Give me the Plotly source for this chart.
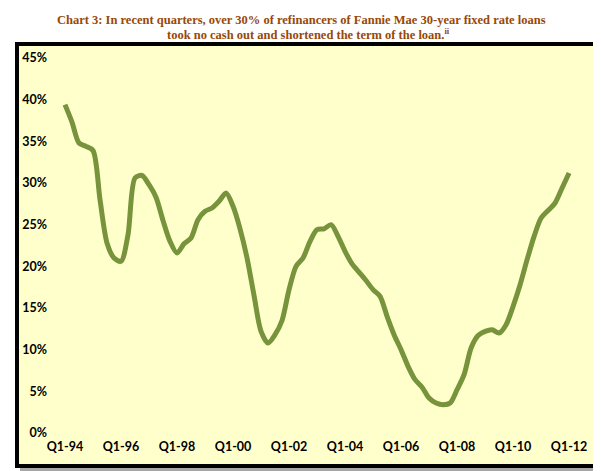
import plotly.graph_objects as go

years = list(range(1994, 2013))
quarters = [f"Q{q}-{str(y)[2:]}" for y in years for q in range(1, 5)][:73]

share_pct = [
    39.4, 37.3, 34.8, 34.4, 33.9, 28.0, 22.8, 21.0, 20.6, 23.8,
    30.6, 30.9, 29.8, 28.3, 25.5, 23.0, 21.6, 22.7, 23.4, 25.6,
    26.6, 27.0, 27.8, 28.8, 27.2, 24.5, 21.0, 16.5, 12.2, 10.8,
    11.8, 13.5, 17.2, 20.0, 21.0, 23.0, 24.4, 24.5, 25.0, 23.6,
    21.8, 20.3, 19.3, 18.3, 17.2, 16.4, 14.0, 11.8, 10.0, 8.0,
    6.4, 5.5, 4.2, 3.6, 3.4, 3.6, 5.2, 7.0, 10.2, 11.7,
    12.2, 12.4, 12.0, 13.0, 15.2, 17.8, 20.8, 23.6, 25.8, 26.7,
    27.6, 29.4, 31.2,
]

x_tick_labels = ["Q1-94", "Q1-96", "Q1-98", "Q1-00", "Q1-02",
                 "Q1-04", "Q1-06", "Q1-08", "Q1-10", "Q1-12"]
y_tick_vals = [0, 5, 10, 15, 20, 25, 30, 35, 40, 45]
y_tick_text = [f"{v}%" for v in y_tick_vals]

title_line1 = "Chart 3: In recent quarters, over 30% of refinancers of Fannie Mae 30-year fixed rate loans"
title_line2 = "took no cash out and shortened the term of the loan.<sup>ii</sup>"

W, H = 601, 471
L, R, T, B = 46, 21, 44, 46
pw, ph = W - L - R, H - T - B


def px_x(x):
    return (x - L) / pw


def px_y(y):
    return (H - B - y) / ph


fig = go.Figure()
fig.add_trace(go.Scatter(
    x=quarters, y=share_pct, mode="lines",
    line=dict(color="#77933C", width=5, shape="spline", smoothing=0.8),
    hoverinfo="x+y",
))

shapes = [
    dict(type="rect", xref="paper", yref="paper", layer="below",
         x0=px_x(12), x1=px_x(597), y0=px_y(39), y1=px_y(463),
         fillcolor="rgba(0,0,0,0.35)", line=dict(width=0)),
    dict(type="rect", xref="paper", yref="paper", layer="below",
         x0=px_x(9), x1=px_x(591), y0=px_y(36), y1=px_y(458),
         fillcolor="#FFFFCC", line=dict(color="black", width=4)),
]

title_font = dict(family="Liberation Serif", size=12.5, color="#984807", weight="bold")
annotations = [
    dict(text=title_line1, xref="paper", yref="paper", x=px_x(293), y=px_y(12),
         xanchor="center", yanchor="middle", showarrow=False, font=title_font),
    dict(text=title_line2, xref="paper", yref="paper", x=px_x(300), y=px_y(26),
         xanchor="center", yanchor="middle", showarrow=False, font=title_font),
]

fig.update_layout(
    width=W, height=H,
    margin=dict(l=L, r=R, t=T, b=B),
    paper_bgcolor="white",
    plot_bgcolor="rgba(0,0,0,0)",
    showlegend=False,
    shapes=shapes,
    annotations=annotations,
    xaxis=dict(
        type="category",
        categoryorder="array", categoryarray=quarters,
        range=[-1.57, 74.7],
        tickmode="array", tickvals=x_tick_labels, ticktext=x_tick_labels,
        showgrid=False, zeroline=False, showline=False, ticks="",
        ticklabelstandoff=4,
        tickfont=dict(family="Lato", size=12.5, color="black", weight="bold"),
    ),
    yaxis=dict(
        range=[0, 45.72],
        tickmode="array", tickvals=y_tick_vals, ticktext=y_tick_text,
        showgrid=False, zeroline=False, showline=False, ticks="",
        ticklabelstandoff=6,
        tickfont=dict(family="Lato", size=12.5, color="black", weight="bold"),
    ),
)

fig.write_html("out.html")
